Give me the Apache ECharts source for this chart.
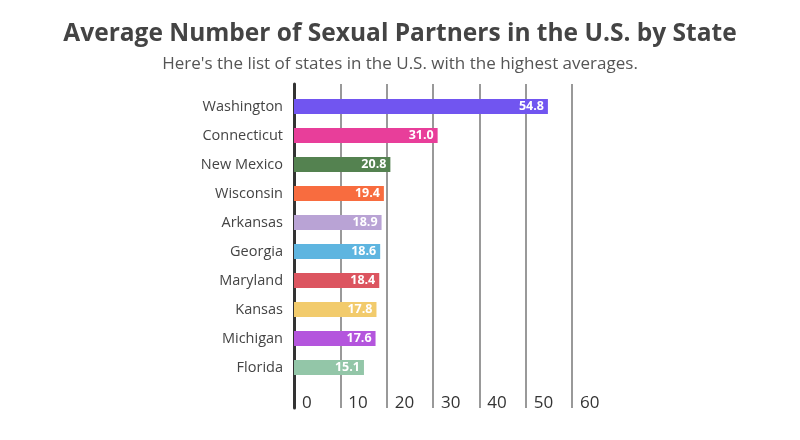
<!DOCTYPE html>
<html><head><meta charset="utf-8">
<script src="https://cdn.jsdelivr.net/npm/echarts@6/dist/echarts.min.js"></script>
<style>html,body{margin:0;padding:0;background:#fff}#c{width:800px;height:440px}</style>
</head><body><div id="c"></div>
<script>
var titleText = "Average Number of Sexual Partners in the U.S. by State";
var subtitleText = "Here's the list of states in the U.S. with the highest averages.";
var states = ["Washington","Connecticut","New Mexico","Wisconsin","Arkansas","Georgia","Maryland","Kansas","Michigan","Florida"];
var values = [54.8, 31.0, 20.8, 19.4, 18.9, 18.6, 18.4, 17.8, 17.6, 15.1];
var colors = ["#7155f0","#e83e9a","#548250","#f86c3f","#b9a3d5","#5eb5e0","#dc5560","#f2cb6c","#b455dd","#93c6a8"];
var tickLabels = ["0","10","20","30","40","50","60"];

var FONT = "Open Sans";
var chart = echarts.init(document.getElementById('c'), null, {renderer:'canvas'});
chart.setOption({
  backgroundColor: '#fff',
  animation: false,
  title: [
    {text: titleText, left: 'center', top: 17, textStyle: {fontFamily: FONT, fontSize: 24.5, fontWeight: 'bold', color: '#444'}},
    {text: subtitleText, left: 'center', top: 51, textStyle: {fontFamily: FONT, fontSize: 17, fontWeight: 'normal', color: '#555'}}
  ],
  grid: [
    {left: 294, width: 278, top: 92, height: 290},
    {left: 294, width: 278, top: 84, height: 324}
  ],
  xAxis: [
    {gridIndex: 0, type: 'value', min: 0, max: 60, interval: 10, show: false},
    {gridIndex: 1, type: 'value', min: 0, max: 60, interval: 10,
     axisLine: {show: false}, axisTick: {show: false},
     splitLine: {show: true, lineStyle: {color: '#999', width: 2}},
     axisLabel: {inside: true, margin: 5, align: 'left', verticalAlign: 'middle', padding: [0,0,0,8],
       fontFamily: FONT, fontSize: 17, color: '#333',
       formatter: function(v){ return tickLabels[Math.round(v/10)]; }}}
  ],
  yAxis: [
    {gridIndex: 0, type: 'category', data: states, inverse: true,
     axisLine: {show: false}, axisTick: {show: false},
     axisLabel: {margin: 11, fontFamily: FONT, fontSize: 14.5, color: '#444'}},
    {gridIndex: 1, type: 'value', min: 0, max: 1, show: true,
     axisLine: {show: true, lineStyle: {color: '#333', width: 3}},
     axisTick: {show: false}, axisLabel: {show: false}, splitLine: {show: false}}
  ],
  series: [{
    type: 'bar', xAxisIndex: 0, yAxisIndex: 0,
    data: values.map(function(v, i){ return {value: v, itemStyle: {color: colors[i]}}; }),
    barWidth: 15,
    label: {show: true, position: 'insideRight', distance: 4, color: '#fff', fontFamily: FONT, fontWeight: 'bold', fontSize: 12.5,
      formatter: function(p){ return p.value.toFixed(1); }}
  }]
});
</script></body></html>
